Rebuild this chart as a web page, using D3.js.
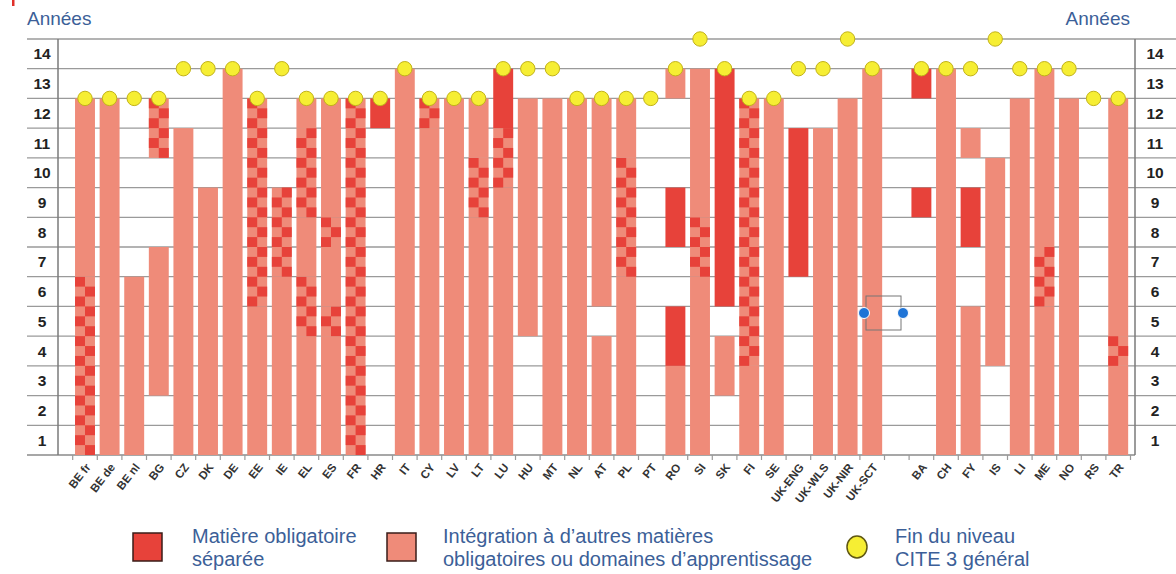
<!DOCTYPE html>
<html><head><meta charset="utf-8">
<script src="https://cdn.jsdelivr.net/npm/d3@7"></script>
<style>body{margin:0;background:#fff}svg{display:block}</style>
</head><body><svg id="c" width="1176" height="574"></svg>
<script>
// ---- data ----
const countries = ["BE fr","BE de","BE nl","BG","CZ","DK","DE","EE","IE","EL","ES","FR","HR","IT","CY","LV","LT","LU","HU","MT","NL","AT","PL","PT","RO","SI","SK","FI","SE","UK-ENG","UK-WLS","UK-NIR","UK-SCT","BA","CH","FY","IS","LI","ME","NO","RS","TR"];
const gapAfter = "UK-SCT";
// per school year (1..n): S = matière obligatoire séparée, I = intégration, C = les deux (damier), W = aucune
const yearCodes = [
"CCCCCCIIIIII","IIIIIIIIIIII","IIIIII","WWIIIIIWWWCC","IIIIIIIIIII","IIIIIIIII","IIIIIIIIIIIII",
"IIIIICCCCCCC","IIIIIICCC","IIIICCIICCCI","IIIICIICIIII","CCCCCCCCCCCC","WWWWWWWWWWWS",
"IIIIIIIIIIIII","IIIIIIIIIIIC","IIIIIIIIIIII","IIIIIIIICCII","IIIIIIIIICCSS","WWWWIIIIIIII",
"IIIIIIIIIIII","IIIIIIIIIIII","IIIIWIIIIIII","IIIIIICCCCII","","IIISSWWSSWWWI","IIIIIICCIIIII",
"WWIIWSSSSSSSS","IIICCCCCCCCC","IIIIIIIIIIII","WWWWWWSSSSS","IIIIIIIIIII","IIIIIIIIIIII",
"IIIIIIIIIIIII","WWWWWWWWSWWWS","IIIIIIIIIIIII","IIIIIWWSSWI","WWWIIIIIII","IIIIIIIIIIII",
"IIIIICCIIIIII","IIIIIIIIIIII","","IIICIIIIIIII"];
const endCite3 = [12,12,12,12,13,13,13,12,13,12,12,12,12,13,12,12,12,13,13,13,12,12,12,12,13,14,13,12,12,13,13,14,13,13,13,13,14,13,13,13,12,12];
const yTicks = [1,2,3,4,5,6,7,8,9,10,11,12,13,14];
const legendItems = [
  {key:"S", lines:["Matière obligatoire","séparée"]},
  {key:"I", lines:["Intégration à d’autres matières","obligatoires ou domaines d’apprentissage"]},
  {key:"D", lines:["Fin du niveau","CITE 3 général"]}
];

// ---- style ----
const RED = "#e7423a", SALMON = "#ef8b79", YELLOW = "#f6ee33", BLUE = "#3c5f98";
const FONT = "Liberation Sans, Arial, sans-serif";
const svg = d3.select("#c");

const slots = [];
countries.forEach(c => { slots.push(c); if (c === gapAfter) slots.push("__gap"); });

const x = d3.scaleBand().domain(slots).range([72.7, 1130.5]).paddingInner(0.19).paddingOuter(0.095);
const y = d3.scaleLinear().domain([0, 14]).range([455, 39]);
const step = x.step(), bw = x.bandwidth();

// top-left mark
svg.append("rect").attr("x", 12).attr("y", 0).attr("width", 2.5).attr("height", 6).attr("fill", "#e0302a");

// gridlines
const g = svg.append("g");
g.selectAll("line.grid").data(d3.range(1, 15)).join("line")
  .attr("x1", 27).attr("x2", 1176).attr("y1", d => y(d)).attr("y2", d => y(d))
  .attr("stroke", "#9a9a9a").attr("stroke-width", 1.3);
g.append("line").attr("x1", 27).attr("x2", 1135).attr("y1", y(0)).attr("y2", y(0))
  .attr("stroke", "#8a8a8a").attr("stroke-width", 1.4);
[58, 1135].forEach(xx => g.append("line").attr("x1", xx).attr("x2", xx).attr("y1", y(14)).attr("y2", y(0))
  .attr("stroke", "#7a7a7a").attr("stroke-width", 1.5));

// x ticks at band boundaries
const bounds = slots.map(s => x(s) - (step - bw) / 2);
bounds.push(bounds[bounds.length - 1] + step);
g.selectAll("line.xt").data(bounds).join("line")
  .attr("x1", d => d).attr("x2", d => d).attr("y1", y(0)).attr("y2", y(0) + 5)
  .attr("stroke", "#9a9a9a").attr("stroke-width", 1.2);

// y labels both sides
[42, 1155].forEach(xx => {
  g.selectAll(null).data(yTicks).join("text")
    .attr("x", xx).attr("y", d => (y(d) + y(d - 1)) / 2).attr("dy", "0.36em")
    .attr("text-anchor", "middle").attr("font-family", FONT)
    .attr("font-weight", "bold").attr("font-size", 15.5).attr("fill", "#222")
    .text(d => d);
});

// bars
const bars = svg.append("g");
countries.forEach((c, i) => {
  const code = yearCodes[i];
  const x0 = x(c);
  let k = 0;
  while (k < code.length) {
    const t = code[k]; let e = k;
    while (e + 1 < code.length && code[e + 1] === t) e++;
    const from = k, to = e + 1;
    if (t === "S" || t === "I" || t === "C") {
      bars.append("rect").attr("x", x0).attr("width", bw)
        .attr("y", y(to)).attr("height", y(from) - y(to))
        .attr("fill", t === "S" ? RED : SALMON);
    }
    if (t === "C") {
      for (let j = from * 3; j < to * 3; j++) {
        const yt = y((j + 1) / 3), yb = y(j / 3);
        bars.append("rect").attr("x", j % 2 === 0 ? x0 + bw / 2 : x0).attr("width", bw / 2)
          .attr("y", yt).attr("height", yb - yt).attr("fill", RED);
      }
    }
    k = e + 1;
  }
});

// end of ISCED 3 dots
svg.append("g").selectAll("circle").data(countries).join("circle")
  .attr("cx", d => x(d) + bw / 2).attr("cy", (d, i) => y(endCite3[i])).attr("r", 7.2)
  .attr("fill", YELLOW).attr("stroke", "#c2b21a").attr("stroke-width", 1);

// x labels
svg.append("g").selectAll("text").data(countries).join("text")
  .attr("transform", d => `translate(${x(d) + bw / 2 + 3},${y(0) + 10}) rotate(-52)`)
  .attr("text-anchor", "end").attr("dy", "0.35em")
  .attr("font-family", FONT).attr("font-weight", "bold")
  .attr("font-size", 11.5).attr("fill", "#333").text(d => d);

// axis titles
svg.append("text").attr("x", 27).attr("y", 25).attr("font-family", FONT)
  .attr("font-size", 19).attr("fill", BLUE).text("Années");
svg.append("text").attr("x", 1130).attr("y", 25).attr("text-anchor", "end").attr("font-family", FONT)
  .attr("font-size", 19).attr("fill", BLUE).text("Années");

// selection artifact
const art = svg.append("g");
art.append("rect").attr("x", 866).attr("y", 296).attr("width", 35).attr("height", 34)
  .attr("fill", "none").attr("stroke", "#777").attr("stroke-width", 1);
[864, 903].forEach(cx => art.append("circle").attr("cx", cx).attr("cy", 313).attr("r", 5.5)
  .attr("fill", "#1f74d6").attr("stroke", "#fff").attr("stroke-width", 1));

// legend
const lg = svg.append("g");
const lgX = [133, 387, 857];
legendItems.forEach((it, i) => {
  if (it.key === "D") {
    lg.append("ellipse").attr("cx", lgX[i]).attr("cy", 547).attr("rx", 10).attr("ry", 11)
      .attr("fill", YELLOW).attr("stroke", "#5f5712").attr("stroke-width", 1.5);
  } else {
    lg.append("rect").attr("x", lgX[i]).attr("y", 533).attr("width", 29).attr("height", 28)
      .attr("fill", it.key === "S" ? RED : SALMON).attr("stroke", "#3a1c18").attr("stroke-width", 1.5);
  }
  const tx = [192, 443, 895][i];
  const t = lg.append("text").attr("x", tx).attr("y", 543).attr("font-family", FONT)
    .attr("font-size", 20).attr("fill", BLUE);
  it.lines.forEach((l, j) => t.append("tspan").attr("x", tx).attr("dy", j === 0 ? 0 : 23).text(l));
});
</script></body></html>
